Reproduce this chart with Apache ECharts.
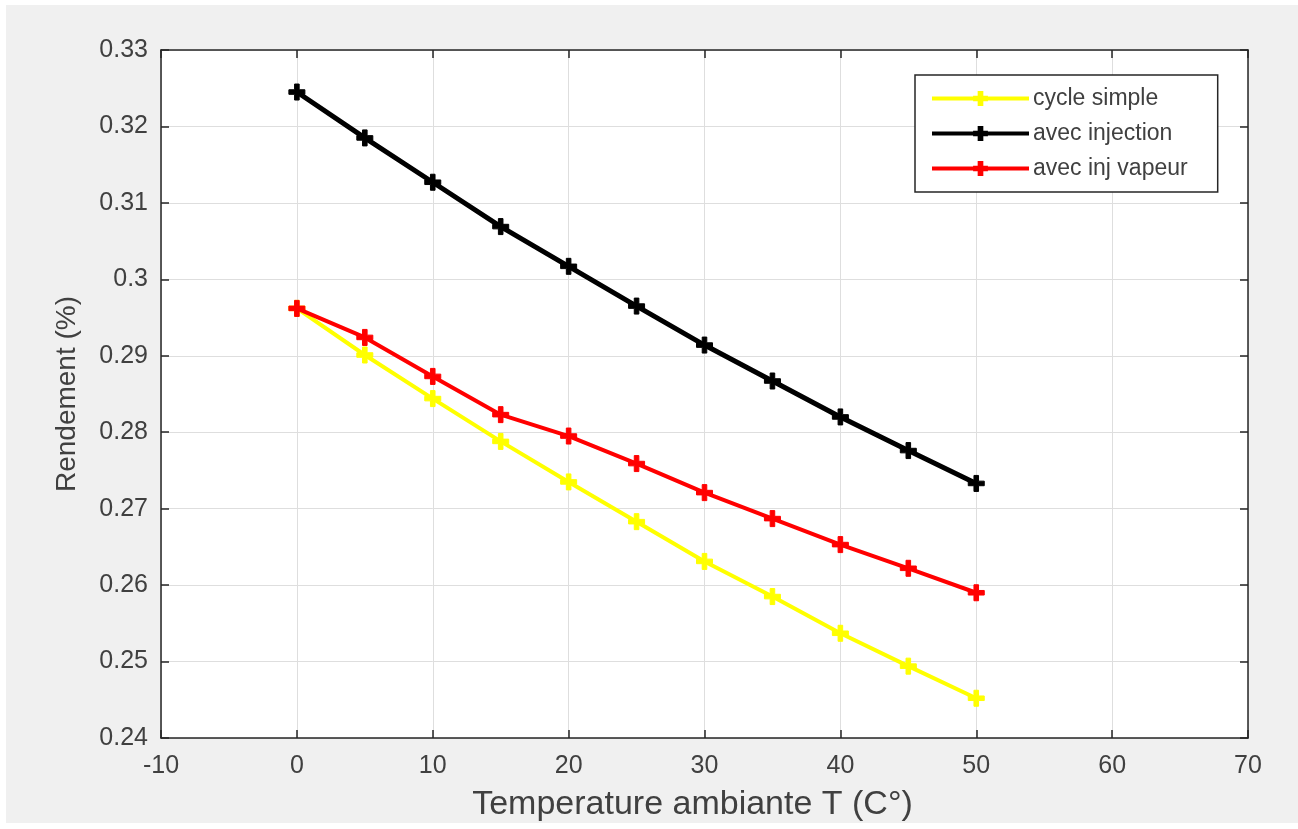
<!DOCTYPE html>
<html>
<head>
<meta charset="utf-8">
<script src="https://cdn.jsdelivr.net/npm/echarts@6/dist/echarts.min.js"></script>
<style>
html,body{margin:0;padding:0;background:#ffffff;}
#frame{position:absolute;left:6px;top:5px;width:1292px;height:818px;background:#f0f0f0;}
#chart{position:absolute;left:-6px;top:-5px;width:1298px;height:829px;}
</style>
</head>
<body>
<div id="frame"><div id="chart"></div></div>
<script>
const temperatures = [0, 5, 10, 15, 20, 25, 30, 35, 40, 45, 50];
const cycleSimple   = [0.2962, 0.2901, 0.2844, 0.2788, 0.2735, 0.2683, 0.2631, 0.2585, 0.2537, 0.2494, 0.2452];
const avecInjection = [0.3245, 0.3185, 0.3127, 0.3069, 0.3017, 0.2965, 0.2914, 0.2867, 0.2820, 0.2776, 0.2733];
const avecInjVapeur = [0.2962, 0.2924, 0.2873, 0.2823, 0.2795, 0.2759, 0.2721, 0.2687, 0.2653, 0.2622, 0.2590];
const seriesNames = ['cycle simple', 'avec injection', 'avec inj vapeur'];
const seriesColors = ['#ffff00', '#000000', '#ff0000'];

const plus = 'path://M5,0H9V5H14V9H9V14H5V9H0V5H5Z';
const pairs = arr => temperatures.map((t, i) => [t, arr[i]]);
const allData = [cycleSimple, avecInjection, avecInjVapeur];

const axisCol = '#262626';
const txtCol = '#404040';
const fontFam = '"Liberation Sans", Arial, sans-serif';

const chart = echarts.init(document.getElementById('chart'), null, {renderer: 'canvas'});
chart.setOption({
  backgroundColor: 'transparent',
  animation: false,
  grid: {left: 161, top: 50, right: 50, bottom: 91, show: true, backgroundColor: '#ffffff', borderWidth: 0},
  legend: {
    orient: 'vertical', left: 915, top: 75,
    data: seriesNames,
    backgroundColor: '#ffffff', borderColor: axisCol, borderWidth: 1.5, borderRadius: 0,
    padding: [12, 30, 12, 15],
    itemWidth: 97, itemHeight: 16, itemGap: 12,
    lineStyle: {width: 4},
    textStyle: {fontFamily: fontFam, fontSize: 23, color: txtCol, padding: [0, 0, 0, -1]}
  },
  xAxis: [{
    type: 'value', min: -10, max: 70, interval: 10, position: 'bottom',
    name: 'Temperature ambiante T (C°)', nameLocation: 'middle', nameGap: 50,
    nameTextStyle: {fontFamily: fontFam, fontSize: 34, color: txtCol, padding: [0, 24, 0, 0]},
    axisLine: {show: true, onZero: false, lineStyle: {color: axisCol, width: 1.5}},
    axisTick: {show: true, inside: true, length: 8, lineStyle: {color: axisCol, width: 1.5}},
    axisLabel: {fontFamily: fontFam, fontSize: 25, color: txtCol, margin: 16},
    splitLine: {show: true, lineStyle: {color: '#dedede', width: 1}}
  }, {
    type: 'value', min: -10, max: 70, interval: 10, position: 'top',
    axisLine: {show: true, onZero: false, lineStyle: {color: axisCol, width: 1.5}},
    axisTick: {show: true, inside: true, length: 8, lineStyle: {color: axisCol, width: 1.5}},
    axisLabel: {show: false}, splitLine: {show: false}
  }],
  yAxis: [{
    type: 'value', min: 0.24, max: 0.33, interval: 0.01, position: 'left',
    name: 'Rendement (%)', nameLocation: 'middle', nameGap: 80, nameRotate: 90,
    nameTextStyle: {fontFamily: fontFam, fontSize: 28, color: txtCol},
    axisLine: {show: true, onZero: false, lineStyle: {color: axisCol, width: 1.5}},
    axisTick: {show: true, inside: true, length: 8, lineStyle: {color: axisCol, width: 1.5}},
    axisLabel: {fontFamily: fontFam, fontSize: 25, color: txtCol, margin: 13,
      formatter: v => String(parseFloat(v.toFixed(2)))},
    splitLine: {show: true, lineStyle: {color: '#dedede', width: 1}}
  }, {
    type: 'value', min: 0.24, max: 0.33, interval: 0.01, position: 'right',
    axisLine: {show: true, onZero: false, lineStyle: {color: axisCol, width: 1.5}},
    axisTick: {show: true, inside: true, length: 8, lineStyle: {color: axisCol, width: 1.5}},
    axisLabel: {show: false}, splitLine: {show: false}
  }],
  series: seriesNames.map((name, i) => ({
    name: name, type: 'line', xAxisIndex: 0, yAxisIndex: 0,
    data: pairs(allData[i]),
    symbol: plus, symbolSize: 16, showSymbol: true,
    lineStyle: {color: seriesColors[i], width: i === 1 ? 5 : 4},
    itemStyle: {color: seriesColors[i], borderColor: seriesColors[i], borderWidth: 1},
    z: i === 0 ? 2 : (i === 2 ? 3 : 4)
  }))
});
</script>
</body>
</html>
